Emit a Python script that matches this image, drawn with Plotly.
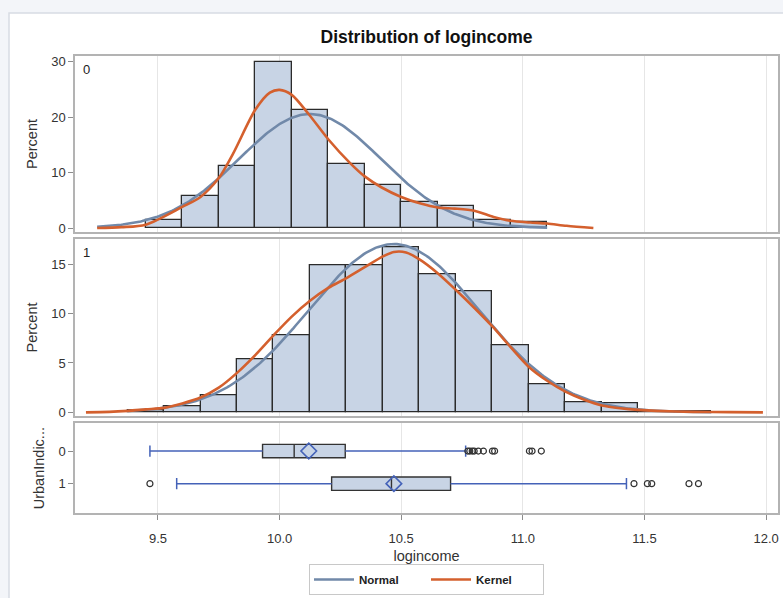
import numpy as np
import plotly.graph_objects as go

# ---- histogram data (percent per bin), bin width 0.15 ----
BIN_W = 0.15
hist0_mid = [9.525, 9.675, 9.825, 9.975, 10.125, 10.275, 10.425, 10.575, 10.725, 10.875, 11.025]
hist0_pct = [1.4, 5.7, 11.1, 30.0, 21.3, 11.5, 7.8, 4.7, 4.0, 1.4, 1.0]

hist1_mid = [9.45, 9.60, 9.75, 9.90, 10.05, 10.20, 10.35, 10.50, 10.65, 10.80,
             10.95, 11.10, 11.25, 11.40, 11.55, 11.70]
hist1_pct = [0.2, 0.57, 1.68, 5.37, 7.77, 14.85, 14.85, 16.72, 13.98, 12.22,
             6.75, 2.87, 1.01, 0.87, 0.15, 0.15]

# ---- fitted normal parameters and drawing range per group ----
norm0_mu, norm0_sd, norm0_lo, norm0_hi = 10.125, 0.2913, 9.25, 11.10
norm1_mu, norm1_sd, norm1_lo, norm1_hi = 10.470, 0.3510, 9.375, 11.775

# ---- kernel density curves (percent scale) ----
kern0_x = [9.25, 9.35, 9.45, 9.60, 9.675, 9.75, 9.81, 9.90, 9.96, 10.00, 10.05, 10.12,
           10.20, 10.29, 10.35, 10.42, 10.50, 10.58, 10.65, 10.72, 10.80, 10.88, 10.95,
           11.03, 11.10, 11.18, 11.29]
kern0_y = [0.0, 0.15, 0.6, 3.8, 5.6, 9.0, 13.5, 21.3, 24.4, 24.9, 24.0, 20.5,
           16.0, 11.7, 9.3, 7.3, 5.6, 4.4, 3.7, 3.5, 3.1, 2.0, 1.3,
           1.0, 0.8, 0.4, 0.0]

kern1_x = [9.204, 9.30, 9.376, 9.45, 9.525, 9.60, 9.675, 9.75, 9.825, 9.90, 9.975,
           10.05, 10.125, 10.20, 10.275, 10.35, 10.425, 10.47, 10.52, 10.575, 10.65,
           10.725, 10.80, 10.875, 10.95, 11.025, 11.10, 11.175, 11.25, 11.325, 11.40,
           11.475, 11.55, 11.70, 11.85, 11.987]
kern1_y = [0.0, 0.05, 0.15, 0.3, 0.45, 0.9, 1.5, 2.5, 4.0, 5.8, 7.8,
           9.7, 11.3, 12.6, 13.6, 14.7, 15.8, 16.25, 16.2, 15.5, 14.1,
           12.4, 10.6, 8.7, 6.6, 4.6, 3.2, 2.1, 1.3, 0.7, 0.42,
           0.25, 0.15, 0.05, 0.02, 0.0]

# ---- box plot statistics per UrbanIndicator group ----
groups = [0, 1]
box_lowfence = [9.467, 9.577]
box_q1 = [9.930, 10.214]
box_median = [10.060, 10.460]
box_q3 = [10.270, 10.703]
box_upfence = [10.765, 11.426]
box_mean = [10.120, 10.470]
outliers0 = [10.774, 10.782, 10.792, 10.800, 10.817, 10.838, 10.875, 10.884,
             11.027, 11.038, 11.076]
outliers1 = [9.467, 11.457, 11.512, 11.530, 11.683, 11.722]

# ---- styling ----
FONT = "Arial, Liberation Sans, sans-serif"
BAR_FILL = "#C8D4E5"
BAR_EDGE = "#2B2B2B"
NORM_C = "#7189A9"
KERN_C = "#D4602E"
WHISK_C = "#4462B8"
FRAME_C = "#B3B3B3"
GRID_C = "#E6E6E6"

X_RANGE = [9.159, 12.049]


def normal_pct(mu, sd, lo, hi):
    xs = np.linspace(lo, hi, 300)
    ys = 100 * BIN_W * np.exp(-0.5 * ((xs - mu) / sd) ** 2) / (sd * np.sqrt(2 * np.pi))
    return xs, ys


fig = go.Figure()

# histograms
for mids, pct, xa, ya in [(hist0_mid, hist0_pct, "x", "y"), (hist1_mid, hist1_pct, "x2", "y2")]:
    fig.add_trace(go.Bar(
        x=mids, y=pct, width=BIN_W, xaxis=xa, yaxis=ya,
        marker=dict(color=BAR_FILL, line=dict(color=BAR_EDGE, width=1.3)),
        showlegend=False, hoverinfo="skip"))

# normal fits
for i, (mu, sd, lo, hi, xa, ya) in enumerate([
        (norm0_mu, norm0_sd, norm0_lo, norm0_hi, "x", "y"),
        (norm1_mu, norm1_sd, norm1_lo, norm1_hi, "x2", "y2")]):
    xs, ys = normal_pct(mu, sd, lo, hi)
    fig.add_trace(go.Scatter(
        x=xs, y=ys, mode="lines", xaxis=xa, yaxis=ya,
        line=dict(color=NORM_C, width=2.6), name="Normal",
        legendgroup="normal", showlegend=(i == 0)))

# kernel densities
for i, (kx, ky, xa, ya) in enumerate([(kern0_x, kern0_y, "x", "y"), (kern1_x, kern1_y, "x2", "y2")]):
    fig.add_trace(go.Scatter(
        x=kx, y=ky, mode="lines", xaxis=xa, yaxis=ya,
        line=dict(color=KERN_C, width=2.6, shape="spline", smoothing=0.8),
        name="Kernel", legendgroup="kernel", showlegend=(i == 0)))

# boxes (whiskers drawn separately in blue)
fig.add_trace(go.Box(
    orientation="h", y=groups, q1=box_q1, median=box_median, q3=box_q3,
    lowerfence=box_q1, upperfence=box_q3, width=0.41, whiskerwidth=0,
    fillcolor=BAR_FILL, line=dict(color="#333333", width=1.4),
    xaxis="x3", yaxis="y3", showlegend=False, hoverinfo="skip", boxpoints=False))

for g in groups:
    fig.add_trace(go.Scatter(
        x=[box_lowfence[g], box_q1[g], None, box_q3[g], box_upfence[g]],
        y=[g, g, None, g, g], mode="lines", line=dict(color=WHISK_C, width=1.5),
        xaxis="x3", yaxis="y3", showlegend=False, hoverinfo="skip"))
    fig.add_trace(go.Scatter(
        x=[box_lowfence[g], box_upfence[g]], y=[g, g], mode="markers",
        marker=dict(symbol="line-ns", size=8, line=dict(color=WHISK_C, width=1.5)),
        xaxis="x3", yaxis="y3", showlegend=False, hoverinfo="skip"))

fig.add_trace(go.Scatter(
    x=box_mean, y=groups, mode="markers",
    marker=dict(symbol="diamond-open", size=12, color=WHISK_C, line=dict(color=WHISK_C, width=1.6)),
    xaxis="x3", yaxis="y3", showlegend=False, hoverinfo="skip"))

for g, outs in zip(groups, [outliers0, outliers1]):
    fig.add_trace(go.Scatter(
        x=outs, y=[g] * len(outs), mode="markers",
        marker=dict(symbol="circle-open", size=6, color="#333333", line=dict(color="#333333", width=1.2)),
        xaxis="x3", yaxis="y3", showlegend=False, hoverinfo="skip"))

# ---- axes ----
W, H = 783, 598
ML, MR, MT, MB = 75, 5, 56, 85
PH = H - MT - MB


def ydom(top_px, bot_px):
    return [(H - MB - bot_px) / PH, (H - MB - top_px) / PH]


xcommon = dict(range=X_RANGE, tick0=9.5, dtick=0.5, showgrid=True, gridcolor=GRID_C,
               gridwidth=1, zeroline=False, showline=True, mirror=True,
               linecolor=FRAME_C, linewidth=1.5, automargin=False)
ycommon = dict(showgrid=False, zeroline=False, showline=True, mirror=True,
               linecolor=FRAME_C, linewidth=1.5, ticks="outside", ticklen=5,
               tickcolor="#8C8C8C", tickfont=dict(size=13, color="#333333", family=FONT),
               automargin=False)
ytitle_font = dict(size=14.5, color="#333333", family=FONT)

fig.update_layout(
    xaxis=dict(**xcommon, anchor="y", showticklabels=False, ticks=""),
    xaxis2=dict(**xcommon, anchor="y2", showticklabels=False, ticks="", matches="x"),
    xaxis3=dict(**xcommon, anchor="y3", matches="x", ticks="outside", ticklen=5,
                tickcolor="#8C8C8C", tickformat=".1f", ticklabelstandoff=8,
                tickfont=dict(size=13, color="#333333", family=FONT),
                title=dict(text="logincome", font=dict(size=14.5, color="#333333", family=FONT),
                           standoff=9)),
    yaxis=dict(**ycommon, domain=ydom(56, 232), anchor="x", range=[-0.72, 31.0],
               tickvals=[0, 10, 20, 30],
               title=dict(text="Percent", font=ytitle_font, standoff=10)),
    yaxis2=dict(**ycommon, domain=ydom(239.3, 415.7), anchor="x2", range=[-0.34, 17.53],
                tickvals=[0, 5, 10, 15],
                title=dict(text="Percent", font=ytitle_font, standoff=10)),
    yaxis3=dict(**ycommon, domain=ydom(423.3, 513), anchor="x3", range=[1.9, -0.85],
                tickvals=[0, 1], ticktext=["0", "1"],
                title=dict(text="UrbanIndic...", font=ytitle_font, standoff=10)),
)

fig.update_layout(
    width=W, height=H,
    margin=dict(l=ML, r=MR, t=MT, b=MB, pad=0, autoexpand=False),
    paper_bgcolor="#F3F5F9", plot_bgcolor="white",
    font=dict(family=FONT, color="#333333"),
    bargap=0,
    title=dict(text="<b>Distribution of logincome</b>", x=0.5, xref="paper", xanchor="center",
               y=1 - 37 / H, yanchor="middle", yref="container",
               font=dict(size=17.5, color="#111111", family=FONT)),
    legend=dict(orientation="h", x=0.5, xanchor="center", xref="paper",
                y=1 - 564 / H, yanchor="top", yref="container",
                bordercolor="#C8C8C8", borderwidth=1, bgcolor="white",
                font=dict(size=11.5, color="#222222", family=FONT, weight="bold"),
                itemwidth=40, entrywidth=62, entrywidthmode="pixels", tracegroupgap=0),
    shapes=[dict(type="rect", xref="paper", yref="paper", layer="below",
                 x0=(9 - ML) / (W - ML - MR), x1=(795 - ML) / (W - ML - MR),
                 y0=(H - MB - 610) / PH, y1=(H - MB - 13) / PH,
                 fillcolor="white", line=dict(color="#D8DCE3", width=1.5))],
    annotations=[
        dict(text="0", xref="x domain", yref="y domain", x=0.017, y=0.926,
             xanchor="center", yanchor="middle", showarrow=False,
             font=dict(size=13, color="#222222", family=FONT)),
        dict(text="1", xref="x2 domain", yref="y2 domain", x=0.017, y=0.926,
             xanchor="center", yanchor="middle", showarrow=False,
             font=dict(size=13, color="#222222", family=FONT)),
    ],
)

fig.write_html("out.html")
